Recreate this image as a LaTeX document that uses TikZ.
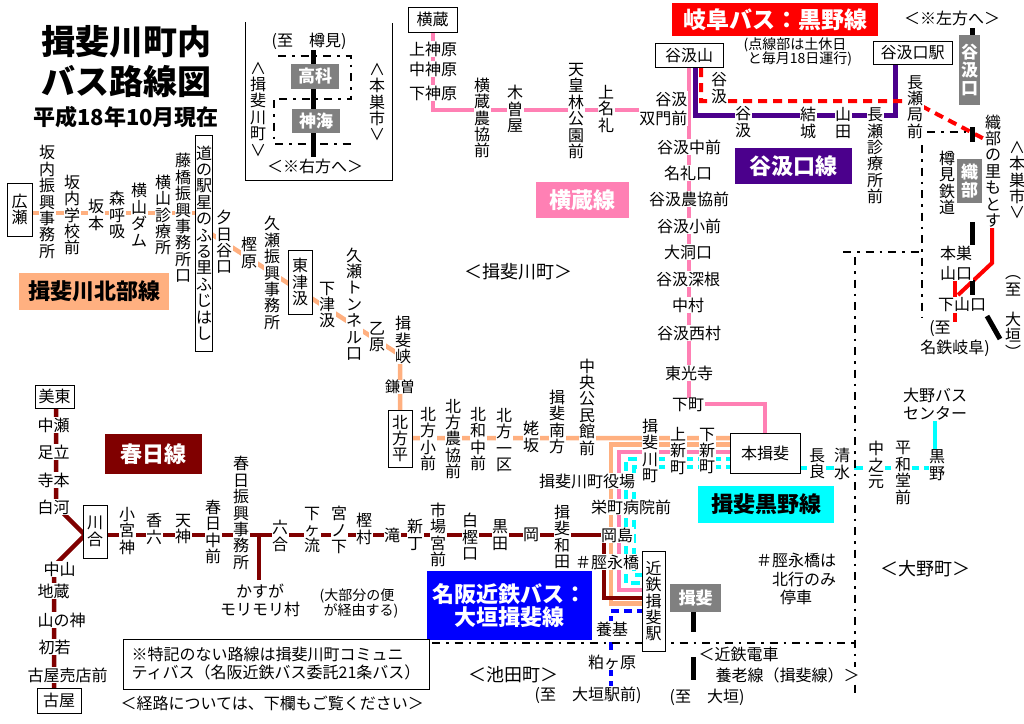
\documentclass[tikz,border=0pt]{standalone}
\usepackage{fontspec}
\setmainfont{Noto Sans CJK JP}
\ExplSyntaxOn
\NewDocumentCommand\vt{m}
 {
  \tl_set:Nn \l_tmpa_tl {#1}
  \tl_set:Nx \l_tmpb_tl { \tl_tail:N \l_tmpa_tl }
  \tl_head:N \l_tmpa_tl
  \tl_map_inline:Nn \l_tmpb_tl { \\ ##1 }
 }
\ExplSyntaxOff
\definecolor{kita}{RGB}{255,176,128}
\definecolor{yoko}{RGB}{255,128,180}
\definecolor{tani}{RGB}{75,0,140}
\definecolor{kasu}{RGB}{128,0,0}
\definecolor{kuro}{RGB}{0,255,255}
\definecolor{kinbus}{RGB}{0,0,255}
\definecolor{gifu}{RGB}{255,0,0}
\definecolor{grayb}{RGB}{128,128,128}
\tikzset{
  st/.style={fill=white,inner sep=0.5pt,align=center,font=\fontsize{16}{16.4}\selectfont},
  sm/.style={st,font=\fontsize{14}{15}\selectfont},
  reg/.style={st,font=\fontsize{18}{19}\selectfont},
  sbox/.style={draw=black,line width=1pt,fill=white,inner sep=0pt,align=center,font=\fontsize{16}{16.4}\selectfont},
  lbl/.style={inner sep=0pt,align=center,font=\fontsize{22}{24}\selectfont\bfseries},
  gbox/.style={fill=grayb,text=white,inner sep=0pt,align=center,font=\fontsize{17}{17.6}\selectfont\bfseries},
  lkita/.style={draw=kita,line width=4.5pt},
  lyoko/.style={draw=yoko,line width=4pt},
  ltani/.style={draw=tani,line width=5pt},
  lkasu/.style={draw=kasu,line width=4.5pt},
  lkuro/.style={draw=kuro,line width=4pt,dash pattern=on 9pt off 5pt},
  lkin/.style={draw=kinbus,line width=4pt,dash pattern=on 8pt off 5pt},
  lgifu/.style={draw=gifu,line width=4pt},
  lgifud/.style={draw=gifu,line width=4pt,dash pattern=on 9pt off 6pt},
  rail/.style={draw=black,line width=5pt},
  bnd/.style={draw=black,line width=2.5pt,dash pattern=on 8pt off 6pt on 2.5pt off 6pt},
}
\begin{document}
\begin{tikzpicture}[x=1pt,y=-1pt]
\useasboundingbox (0,0) rectangle (1024,723);
\fill[white] (0,0) rectangle (1024,723);

% ---------- route coordinates / lines ----------
% north line (orange)
\draw[lkita] (20,213) coordinate (k0) -- (200,213) coordinate (k1);
\draw[lkita] (205,230) coordinate (k2) -- (400,355) coordinate (k3) -- (400,438) -- (735,438) coordinate (k4);
\draw[lkita] (735,444.5) -- (611,444.5) -- (611,603.5) -- (645,603.5);
% yokokura (pink)
\draw[lyoko] (433,30) -- (433,110) -- (689,110);
\draw[lyoko] (689,65) -- (689,404) -- (765,404) -- (765,435);
\draw[lyoko] (735,452) -- (619,452) -- (619,590) -- (645,590);
% tanigumiguchi (purple)
\draw[ltani] (695,65) -- (695,115) -- (895,115) -- (895,62);
% gifu bus (red)
\draw[lgifud] (701,68) -- (701,101) -- (912,101) -- (990,142);
\draw[lgifu] (992,200) -- (992,263) -- (958,295);
\draw[lgifu] (955,280) -- (955,322);
% kasuga (dark red)
\draw[lkasu] (56,406) -- (56,506) -- (84,534);
\draw[lkasu] (84,536) -- (54,566) -- (54,690);
\draw[lkasu] (105,535) -- (604,535) -- (604,598) -- (645,598);
\draw[lkasu] (259,535) -- (259,580);
% ibi-kurono (cyan)
\draw[lkuro] (735,459) -- (626,459) -- (626,583) -- (645,583);
\draw[lkuro] (735,467) -- (634,467) -- (634,575) -- (645,575);
\draw[lkuro] (798,468) -- (930,468);
\draw[draw=kuro,line width=4pt] (935,421) -- (935,450);
% meihan kintetsu (blue)
\draw[lkin] (645,611) -- (611,611) -- (611,690);
% railways
\draw[rail] (972,28) -- (972,38);
\draw[rail] (972,127) -- (972,142);
\draw[rail] (972,222) -- (972,245);
\draw[rail] (972,280) -- (972,295);
\draw[rail] (987,316) -- (1000,339);
\draw[rail] (313,49) -- (313,157);
\draw[rail] (693,610) -- (693,632);
\draw[rail] (693,657) -- (693,680);
% boundaries
\draw[bnd] (927,132) -- (975,132);
\draw[bnd] (922,145) -- (922,318);
\draw[bnd] (843,252) -- (920,252);
\draw[bnd] (855,257) -- (855,693);
\draw[bnd] (432,643) -- (855,643);
% inset
\draw[line width=1pt] (245,22) -- (245,180) -- (392,180) -- (392,23);
\draw[bnd] (278,56) -- (351,56) -- (351,99) -- (278,99);
\draw[bnd] (274,100) -- (274,144) -- (353,144);

% ---------- title ----------
\node[font=\fontsize{34}{36}\selectfont\bfseries,inner sep=0pt] (t1) at (126,42) {揖斐川町内};
\node[font=\fontsize{34}{36}\selectfont\bfseries,inner sep=0pt] (t2) at (126,82) {バス路線図};
\node[font=\fontsize{22}{24}\selectfont\bfseries,inner sep=0pt] (t3) at (126,117) {平成18年10月現在};

% inset contents
\node[st] (i1) at (309,41) {(至　樽見)};
\node[gbox,minimum width=48pt,minimum height=25pt] (i2) at (315,76.5) {高科};
\node[gbox,minimum width=48pt,minimum height=24pt] (i3) at (316,121) {神海};
\node[st] (i4) at (258,109) {\vt{∧揖斐川町∨}};
\node[st] (i5) at (377,102) {\vt{∧本巣市∨}};
\node[st] (i6) at (315,166) {＜※右方へ＞};

% ---------- label boxes ----------
\node[lbl,fill=kita,minimum width=150pt,minimum height=37pt] (L1) at (94,291.5) {揖斐川北部線};
\node[lbl,fill=gifu,text=white,minimum width=206pt,minimum height=33pt,font=\fontsize{23}{24}\selectfont\bfseries] (L2) at (775,19.5) {岐阜バス：黒野線};
\node[lbl,fill=tani,text=white,minimum width=117pt,minimum height=36pt] (L3) at (793.5,166) {谷汲口線};
\node[lbl,fill=yoko,text=white,minimum width=93pt,minimum height=36pt] (L4) at (582.5,200) {横蔵線};
\node[lbl,fill=kasu,text=white,minimum width=97pt,minimum height=40pt] (L5) at (153.5,454) {春日線};
\node[lbl,fill=kuro,minimum width=136pt,minimum height=37pt] (L6) at (766,504.5) {揖斐黒野線};
\node[lbl,fill=kinbus,text=white,minimum width=165pt,minimum height=69pt,font=\fontsize{22}{23}\selectfont\bfseries] (L7) at (509.5,605.5) {名阪近鉄バス：\\大垣揖斐線};

% ---------- boxed stations ----------
\node[sbox,minimum width=25pt,minimum height=53pt] (hirose) at (19.5,209.5) {\vt{広瀬}};
\node[sbox,minimum width=17pt,minimum height=216pt] (michi) at (204,243) {\vt{道の駅星のふる里ふじはし}};
\node[sbox,minimum width=24pt,minimum height=64pt] (higashi) at (300,282) {\vt{東津汲}};
\node[sbox,minimum width=24pt,minimum height=57pt] (kitagata) at (400,438.5) {\vt{北方平}};
\node[sbox,minimum width=24pt,minimum height=53pt] (kawai) at (95,531.5) {\vt{川合}};
\node[sbox,minimum width=39pt,minimum height=23pt] (bito) at (54.5,396.5) {美東};
\node[sbox,minimum width=44pt,minimum height=25pt] (furuya) at (59,700.5) {古屋};
\node[sbox,minimum width=49pt,minimum height=25pt] (yokokura) at (432.5,19.5) {横蔵};
\node[sbox,minimum width=68pt,minimum height=24pt] (tanisan) at (689,55) {谷汲山};
\node[sbox,minimum width=79pt,minimum height=23pt] (taniguchi) at (912.5,52.5) {谷汲口駅};
\node[sbox,minimum width=70pt,minimum height=40pt] (honibi) at (765,453) {本揖斐};
\node[sbox,minimum width=23pt,minimum height=100pt] (kinibi) at (653.5,601) {\vt{近鉄揖斐駅}};

% gray station boxes
\node[gbox,minimum width=21pt,minimum height=70pt] (g1) at (969.5,70) {\vt{谷汲口}};
\node[gbox,minimum width=25pt,minimum height=44pt] (g2) at (969.5,181) {\vt{織部}};
\node[gbox,minimum width=51pt,minimum height=28pt] (g3) at (695.5,598) {揖斐};

% ---------- north line stations ----------
\node[st] (a1) at (47,202) {\vt{坂内振興事務所}};
\node[st] (a2) at (72,215) {\vt{坂内学校前}};
\node[st] (a3) at (96,215) {\vt{坂本}};
\node[st] (a4) at (117,215) {\vt{森呼吸}};
\node[st] (a5) at (139,215) {\vt{横山ダム}};
\node[st] (a6) at (163,215) {\vt{横山診療所}};
\node[st] (a7) at (183,218) {\vt{藤橋振興事務所口}};
\node[st] (a8) at (224,242) {\vt{夕日谷口}};
\node[st] (a9) at (249,253) {\vt{樫原}};
\node[st] (a10) at (272,273) {\vt{久瀬振興事務所}};
\node[st] (a11) at (327,305) {\vt{下津汲}};
\node[st] (a12) at (354,304) {\vt{久瀬トンネル口}};
\node[st] (a13) at (377,337) {\vt{乙原}};
\node[st] (a14) at (403,340) {\vt{揖斐峡}};
\node[st,font=\fontsize{15}{16}\selectfont] (a15) at (400,387) {鎌曽};
\node[st] (a16) at (428,439) {\vt{北方小前}};
\node[st] (a17) at (453,439) {\vt{北方農協前}};
\node[st] (a18) at (478,439) {\vt{北和中前}};
\node[st] (a19) at (504,440) {\vt{北方一区}};
\node[st] (a20) at (531,437) {\vt{姥坂}};
\node[st] (a21) at (557,422) {\vt{揖斐南方}};
\node[st] (a22) at (587,407) {\vt{中央公民館前}};
\node[st] (a23) at (650,451) {\vt{揖斐川町}};
\node[st] (a24) at (678,451) {\vt{上新町}};
\node[st] (a25) at (707,451) {\vt{下新町}};
\node[st] (a26) at (587,481) {揖斐川町役場};
\node[st] (a27) at (631,507) {栄町病院前};
\node[st] (a28) at (617,535) {岡島};
\node[st] (a29) at (607,562) {＃脛永橋};

% ---------- kasuga line stations ----------
\node[st,anchor=west] (b1) at (37,425) {中瀬};
\node[st,anchor=west] (b2) at (37,452) {足立};
\node[st,anchor=west] (b3) at (37,480) {寺本};
\node[st,anchor=west] (b4) at (37,507) {白河};
\node[st,anchor=west] (b5) at (43,569) {中山};
\node[st,anchor=west] (b6) at (37,591) {地蔵};
\node[st,anchor=west] (b7) at (37,620) {山の神};
\node[st,anchor=west] (b8) at (38,647) {初若};
\node[st,anchor=west] (b9) at (27,675) {古屋売店前};
\node[st] (b10) at (127,531) {\vt{小宮神}};
\node[st] (b11) at (154,529) {\vt{香六}};
\node[st] (b12) at (183,529) {\vt{天神}};
\node[st] (b13) at (213,532) {\vt{春日中前}};
\node[st] (b14) at (241,513) {\vt{春日振興事務所}};
\node[st] (b15) at (280,536) {\vt{六合}};
\node[st] (b16) at (312,530) {\vt{下ヶ流}};
\node[st] (b17) at (339,530) {\vt{宮ノ下}};
\node[st] (b18) at (364,529) {\vt{樫村}};
\node[st] (b19) at (392,535) {\vt{滝}};
\node[st] (b20) at (415,535) {\vt{新丁}};
\node[st] (b21) at (438,535) {\vt{市場宮前}};
\node[st] (b22) at (470,537) {\vt{白樫口}};
\node[st] (b23) at (500,535) {\vt{黒田}};
\node[st] (b24) at (531,535) {\vt{岡}};
\node[st] (b25) at (562,537) {\vt{揖斐和田}};
\node[st,font=\fontsize{16}{18}\selectfont] (b26) at (260,600) {かすが\\モリモリ村};
\node[sm,font=\fontsize{14}{15}\selectfont] (b27) at (357,596) {(大部分の便};
\node[sm,font=\fontsize{14}{15}\selectfont] (b28) at (361,611) {が経由する)};

% ---------- yokokura line stations ----------
\node[st] (c1) at (433,49) {上神原};
\node[st] (c2) at (433,69) {中神原};
\node[st] (c3) at (433,93) {下神原};
\node[st] (c4) at (482,118) {\vt{横蔵農協前}};
\node[st] (c5) at (515,109) {\vt{木曽屋}};
\node[st] (c6) at (576,111) {\vt{天皇林公園前}};
\node[st] (c7) at (606,109) {\vt{上名礼}};
\node[st,align=right,anchor=east,font=\fontsize{16}{19}\selectfont] (c8) at (688,108.5) {谷汲\\双門前};
\node[st] (c9) at (689,147) {谷汲中前};
\node[st] (c10) at (688,173) {名礼口};
\node[st] (c11) at (689,199) {谷汲農協前};
\node[st] (c12) at (689,226) {谷汲小前};
\node[st] (c13) at (688,252) {大洞口};
\node[st] (c14) at (688,279) {谷汲深根};
\node[st] (c15) at (688,305) {中村};
\node[st] (c16) at (689,333) {谷汲西村};
\node[st] (c17) at (689,373) {東光寺};
\node[st] (c18) at (688,405) {下町};

% ---------- tanigumiguchi / gifu bus stations ----------
\node[st] (d1) at (743,122) {\vt{谷汲}};
\node[st] (d2) at (808,123) {\vt{結城}};
\node[st] (d3) at (843,123) {\vt{山田}};
\node[st] (d4) at (875,156) {\vt{長瀬診療所前}};
\node[st] (e1) at (719,88) {\vt{谷汲}};
\node[st] (e2) at (915,107) {\vt{長瀬局前}};
\node[st] (e3) at (993,171) {\vt{織部の里もとす}};
\node[st] (e4) at (947,183) {\vt{樽見鉄道}};
\node[st,font=\fontsize{16}{20}\selectfont] (e5) at (956,263) {本巣\\山口};
\node[st] (e6) at (962,305) {下山口};
\node[st] (e7) at (940,329) {(至};
\node[st] (e8) at (955,348) {名鉄岐阜)};
\node[st] (e9) at (1013,286) {\vt{︵至}};
\node[st] (e10) at (1013,335) {\vt{大垣︶}};
\node[st] (e11) at (1017,180) {\vt{∧本巣市∨}};
\node[st] (e12) at (952,18) {＜※左方へ＞};
\node[sm] (e13) at (795,45) {(点線部は土休日};
\node[sm] (e14) at (800,59) {と毎月18日運行)};

% ---------- ibi-kurono stations ----------
\node[st] (f1) at (817,464) {\vt{長良}};
\node[st] (f2) at (842,464) {\vt{清水}};
\node[st] (f3) at (876,465) {\vt{中之元}};
\node[st] (f4) at (903,473) {\vt{平和堂前}};
\node[st] (f5) at (937,465) {\vt{黒野}};
\node[st,font=\fontsize{16}{18}\selectfont] (f6) at (935,404) {大野バス\\センター};

% ---------- bottom ----------
\node[st] (g4) at (612,629) {養基};
\node[st] (g5) at (612,662) {粕ヶ原};
\node[st] (g6) at (588,695) {(至　大垣駅前)};
\node[st] (g7) at (707,697) {(至　大垣)};
\node[st,anchor=west] (g8) at (698,654) {＜近鉄電車};
\node[st,anchor=west] (g9) at (715,675) {養老線（揖斐線）＞};
\node[st] (g10) at (796,560) {＃脛永橋は};
\node[st] (g11) at (804,579) {北行のみ};
\node[st] (g12) at (796,597) {停車};

% region names
\node[reg] (r1) at (518,272) {＜揖斐川町＞};
\node[reg] (r2) at (513,675) {＜池田町＞};
\node[reg] (r3) at (925,569) {＜大野町＞};

% note
\node[draw=black,line width=1pt,fill=white,minimum width=306pt,minimum height=50pt,align=left,inner sep=0pt,font=\fontsize{16}{18}\selectfont] (note) at (276,664) {※特記のない路線は揖斐川町コミュニ\\ティバス（名阪近鉄バス委託21条バス）};
\node[st,anchor=west] (note2) at (120,703) {＜経路については、下欄もご覧ください＞};
\end{tikzpicture}
\end{document}
